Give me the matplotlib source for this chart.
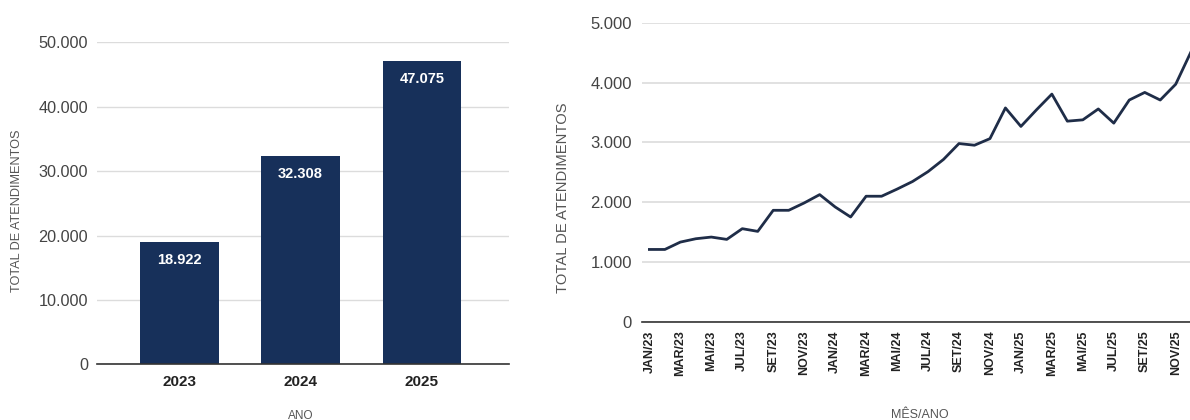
import matplotlib
matplotlib.use("Agg")
import matplotlib.pyplot as plt
from matplotlib.ticker import FuncFormatter, FixedLocator

plt.rcParams['font.family'] = ['Liberation Sans', 'DejaVu Sans']

# ---- data ----
years = ["2023", "2024", "2025"]
totals_year = [18922, 32308, 47075]

months = ["JAN", "FEV", "MAR", "ABR", "MAI", "JUN", "JUL", "AGO", "SET", "OUT", "NOV", "DEZ"]
month_labels = [f"{m}/{y[2:]}" for y in years for m in months]
monthly_values = [
    1212, 1212, 1335, 1391, 1419, 1380, 1559, 1514, 1866, 1866, 1989, 2128,
    1922, 1754, 2101, 2101, 2220, 2347, 2512, 2716, 2981, 2953, 3063, 3576,
    3267, 3543, 3807, 3355, 3377, 3559, 3322, 3708, 3835, 3708, 3972, 4520,
]

bar_color = "#17305a"
line_color = "#1f2d48"
grid_color = "#dcdcdc"
tick_color = "#444444"


def fmt_thousands(v, pos=None):
    return f"{int(round(v)):,}".replace(",", ".")


fig = plt.figure(figsize=(11.9, 4.2), dpi=100)

# ---- left: bar chart ----
ax1 = fig.add_axes([0.0813, 0.1326, 0.3467, 0.7667])
x1 = list(range(len(years)))
ax1.bar(x1, totals_year, width=0.65, color=bar_color, zorder=3)
for xi, v in zip(x1, totals_year):
    ax1.text(xi, v - 1700, fmt_thousands(v), ha="center", va="top",
             color="white", fontsize=10.5, fontweight="bold", zorder=4)
ax1.set_ylim(0, 50000)
ax1.set_xlim(-0.68, 2.72)
ax1.yaxis.set_major_locator(FixedLocator([0, 10000, 20000, 30000, 40000, 50000]))
ax1.yaxis.set_major_formatter(FuncFormatter(fmt_thousands))
ax1.set_xticks(x1)
ax1.set_xticklabels(years, fontweight="bold", fontsize=11, color="#222222")
ax1.grid(axis="y", color=grid_color, linewidth=1, zorder=0)
for s in ["top", "right", "left"]:
    ax1.spines[s].set_visible(False)
ax1.spines["bottom"].set_color("#333333")
ax1.spines["bottom"].set_linewidth(1.2)
ax1.spines["bottom"].set_zorder(5)
ax1.tick_params(axis="y", length=0, labelsize=11.7, labelcolor=tick_color, pad=6.3)
ax1.tick_params(axis="x", length=0, pad=8)
ax1.set_ylabel("TOTAL DE ATENDIMENTOS", fontsize=9.2, color="#555555")
ax1.yaxis.set_label_coords(-0.179, 0.477)
ax1.text(0.495, -0.16, "ANO", transform=ax1.transAxes, ha="center", va="center",
         fontsize=8.5, color="#555555")

# ---- right: line chart ----
ax2 = fig.add_axes([0.5392, 0.2333, 0.4683, 0.7127])
x2 = list(range(len(monthly_values)))
ax2.plot(x2, monthly_values, color=line_color, linewidth=2.0, zorder=3)
ax2.set_ylim(0, 5000)
ax2.set_xlim(-0.5, 35.5)
ax2.yaxis.set_major_locator(FixedLocator([0, 1000, 2000, 3000, 4000, 5000]))
ax2.yaxis.set_major_formatter(FuncFormatter(fmt_thousands))
ax2.set_xticks(x2[::2])
ax2.set_xticklabels(month_labels[::2], rotation=90, fontweight="bold",
                    fontsize=9, color="#222222")
ax2.grid(axis="y", color=grid_color, linewidth=1.2, zorder=0)
for s in ["top", "right", "left"]:
    ax2.spines[s].set_visible(False)
ax2.spines["bottom"].set_color("#333333")
ax2.spines["bottom"].set_linewidth(1.2)
ax2.tick_params(axis="y", length=0, labelsize=12, labelcolor=tick_color, pad=7)
ax2.tick_params(axis="x", length=0, pad=6)
ax2.set_ylabel("TOTAL DE ATENDIMENTOS", fontsize=10.6, color="#555555")
ax2.yaxis.set_label_coords(-0.129, 0.416)
ax2.text(0.499, -0.31, "MÊS/ANO", transform=ax2.transAxes, ha="center", va="center",
         fontsize=9, color="#555555")

fig.savefig("out.png", dpi=100)
